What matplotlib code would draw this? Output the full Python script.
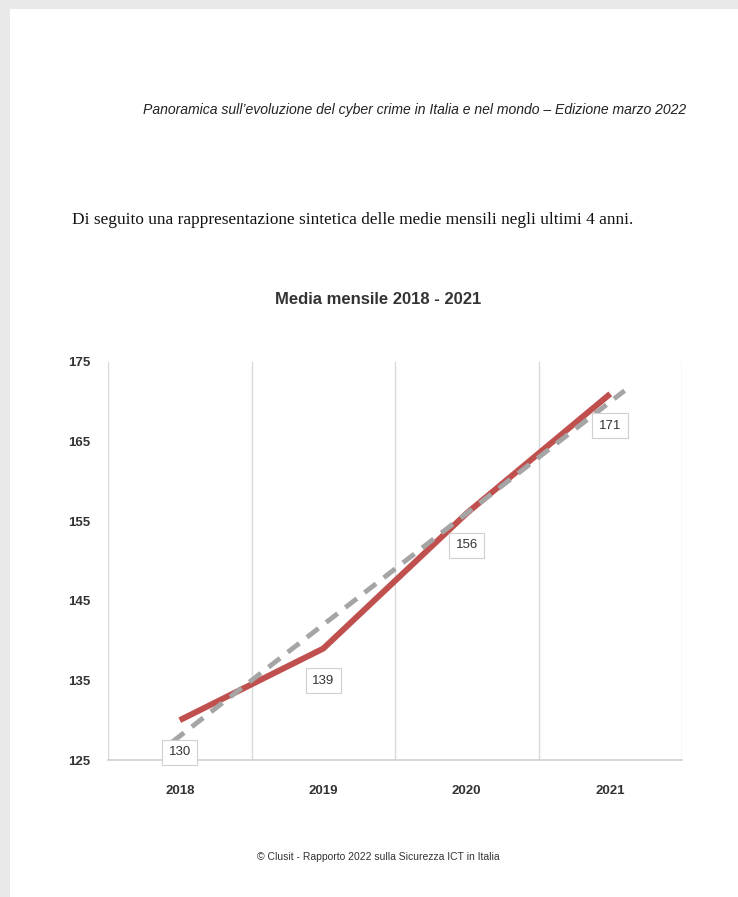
import matplotlib.pyplot as plt
from matplotlib.patches import Rectangle

years = ["2018", "2019", "2020", "2021"]
values = [130, 139, 156, 171]
trend_x = [-0.05, 3.1]
trend_y = [127.3, 171.4]
yticks = [125, 135, 145, 155, 165, 175]

W, H = 738, 897
fig = plt.figure(figsize=(W / 100, H / 100), dpi=100)
fig.patch.set_facecolor("#e9e9e9")
fig.patches.append(Rectangle((10 / W, 0), 1, 1 - 9 / H, transform=fig.transFigure,
                             facecolor="white", edgecolor="none", zorder=-10))

fig.text(686 / W, 1 - 110 / H,
         "Panoramica sull\u2019evoluzione del cyber crime in Italia e nel mondo \u2013 Edizione marzo 2022",
         ha="right", va="center", fontsize=10.1, style="italic",
         family="Liberation Sans", color="#222222")
fig.text(72 / W, 1 - 220 / H,
         "Di seguito una rappresentazione sintetica delle medie mensili negli ultimi 4 anni.",
         ha="left", va="center", fontsize=12.4, family="Liberation Serif", color="#111111")
fig.text(378 / W, 1 - 300 / H, "Media mensile 2018 - 2021", ha="center", va="center",
         fontsize=12, fontweight="bold", family="Liberation Sans", color="#333333")
fig.text(378 / W, 1 - 857 / H, "\u00a9 Clusit - Rapporto 2022 sulla Sicurezza ICT in Italia",
         ha="center", va="center", fontsize=7.5, family="Liberation Sans", color="#333333")

ax = fig.add_axes([108 / W, 1 - 760 / H, (682 - 108) / W, (760 - 362) / H])
ax.set_facecolor("none")
x = list(range(len(years)))
ax.set_xlim(-0.5, 3.5)
ax.set_ylim(125, 175)
for xv in [-0.5, 0.5, 1.5, 2.5, 3.5]:
    ax.axvline(xv, color="#d9d9d9", lw=1, zorder=1)
for s in ["top", "right", "left"]:
    ax.spines[s].set_visible(False)
ax.spines["bottom"].set_color("#d0d0d0")
ax.spines["bottom"].set_linewidth(1.2)

ax.plot(x, values, color="#c0504d", lw=4.3, solid_capstyle="butt", zorder=3)
ax.plot(trend_x, trend_y, color="#a5a5a5", lw=3.5, dashes=(3, 2), zorder=4)

for xi, v in zip(x, values):
    ax.annotate(str(v), (xi, v), xytext=(0, -23), textcoords="offset points",
                ha="center", va="center", fontsize=9.5, family="Liberation Sans",
                color="#333333", zorder=5,
                bbox=dict(boxstyle="square,pad=0.5", facecolor="white",
                          edgecolor="#d0d0d0", lw=0.8))

ax.set_xticks(x)
ax.set_xticklabels(years)
ax.set_yticks(yticks)
ax.tick_params(axis="x", length=0, labelsize=9.5, colors="#333333", pad=18)
ax.tick_params(axis="y", length=0, labelsize=9.5, colors="#333333", pad=13)
for lbl in ax.get_xticklabels() + ax.get_yticklabels():
    lbl.set_family("Liberation Sans")
    lbl.set_fontweight("bold")

fig.savefig("out.png", dpi=100)
